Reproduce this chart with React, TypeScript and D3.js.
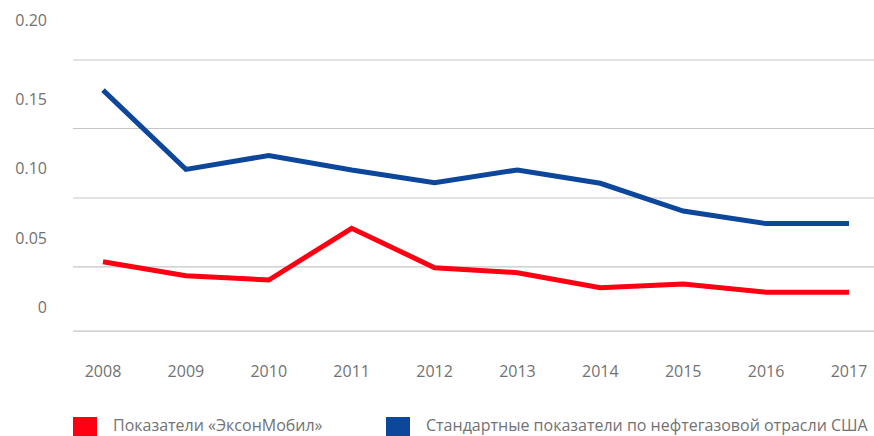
import React from "react";
import * as d3 from "d3";

const years = ["2008", "2009", "2010", "2011", "2012", "2013", "2014", "2015", "2016", "2017"];
const exxonValues = [0.0326, 0.0225, 0.0194, 0.0566, 0.0283, 0.0247, 0.0139, 0.0165, 0.0106, 0.0106];
const industryValues = [0.156, 0.099, 0.109, 0.0985, 0.0894, 0.0986, 0.089, 0.069, 0.060, 0.060];
const yTickValues = [0, 0.05, 0.1, 0.15, 0.2];
const yTickLabels = ["0", "0.05", "0.10", "0.15", "0.20"];
const gridValues = [-0.0173, 0.0288, 0.0784, 0.1284, 0.1777];
const seriesNames = ["Показатели «ЭксонМобил»", "Стандартные показатели по нефтегазовой отрасли США"];
const seriesColors = ["#ff0013", "#0c479c"];

const W = 874;
const H = 436;
const FONT = "'Open Sans', sans-serif";
const TEXT = "#727272";

export default function App() {
  const x = d3.scalePoint<string>().domain(years).range([103, 849]);
  const y = d3.scaleLinear().domain([0, 0.1]).range([307, 168]);
  const line = d3
    .line<number>()
    .x((_, i) => x(years[i]) as number)
    .y((d) => y(d));
  const series = [exxonValues, industryValues];

  return (
    <div style={{ position: "fixed", left: 0, top: 0 }}>
      <svg width={W} height={H} style={{ display: "block", background: "#fff" }}>
        {gridValues.map((g, i) => (
          <line key={i} x1={73} x2={W} y1={y(g)} y2={y(g)} stroke="#c6c6c6" strokeWidth={1.2} />
        ))}
        {yTickValues.map((v, i) => (
          <text
            key={i}
            x={47}
            y={i === yTickValues.length - 1 ? y(v) - 9 : y(v)}
            textAnchor="end"
            dominantBaseline="central"
            fontFamily={FONT}
            fontSize={16}
            fill={TEXT}
          >
            {yTickLabels[i]}
          </text>
        ))}
        {years.map((yr) => (
          <text
            key={yr}
            x={x(yr) as number}
            y={371}
            textAnchor="middle"
            dominantBaseline="central"
            fontFamily={FONT}
            fontSize={16}
            fill={TEXT}
          >
            {yr}
          </text>
        ))}
        {series.map((s, i) => (
          <path
            key={i}
            d={line(s) as string}
            fill="none"
            stroke={seriesColors[i]}
            strokeWidth={5}
            strokeLinejoin="miter"
          />
        ))}
        {seriesNames.map((name, i) => {
          const lx = i === 0 ? 73 : 386;
          return (
            <g key={i}>
              <rect x={lx} y={417} width={24} height={19} fill={seriesColors[i]} />
              <text
                x={lx + 40}
                y={431}
                fontFamily={FONT}
                fontSize={16}
                fill={TEXT}
              >
                {name}
              </text>
            </g>
          );
        })}
      </svg>
    </div>
  );
}
